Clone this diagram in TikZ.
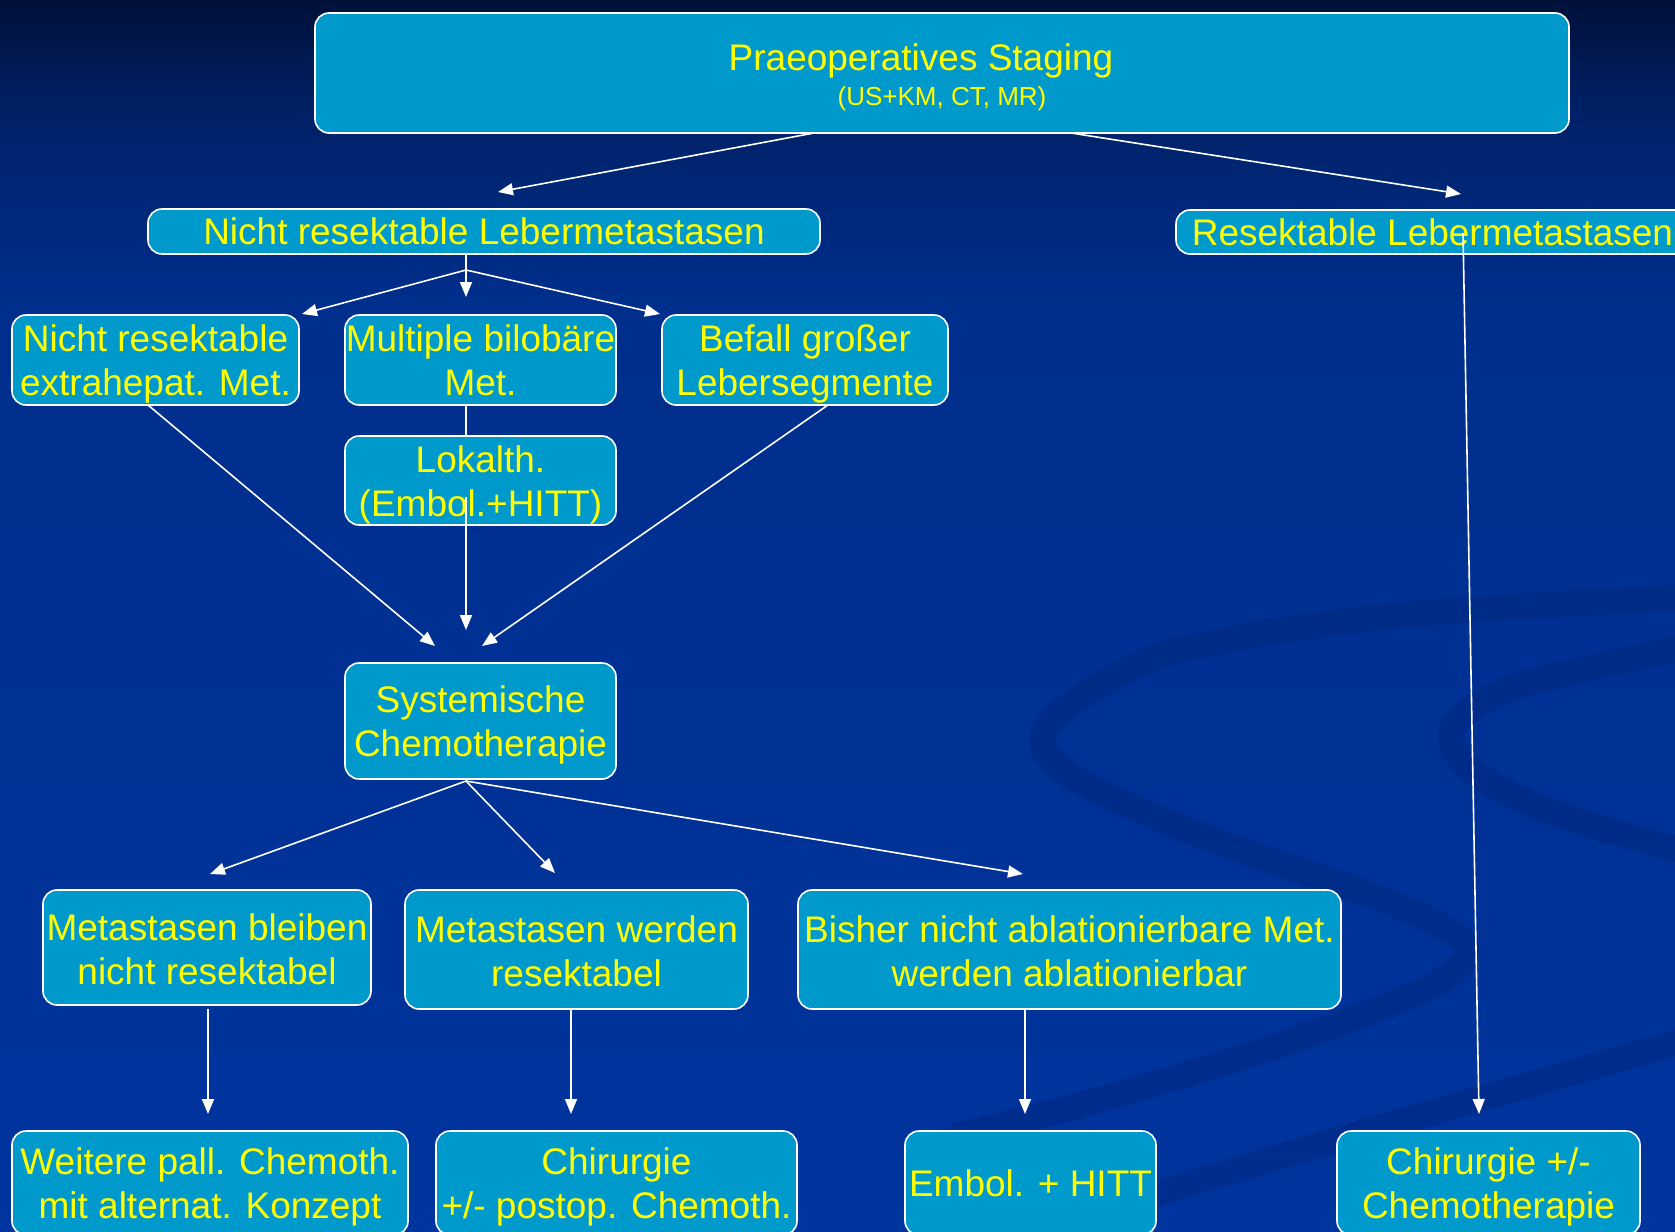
\documentclass[tikz,border=0pt]{standalone}
\usepackage{fontspec}
\setmainfont{Liberation Sans}
\usetikzlibrary{arrows.meta,calc}
\definecolor{boxfill}{RGB}{0,153,204}
\definecolor{txt}{RGB}{255,255,0}
\definecolor{bgtop}{RGB}{0,16,56}
\definecolor{bgupper}{RGB}{0,32,100}
\definecolor{bgmid}{RGB}{0,46,140}
\definecolor{bgbot}{RGB}{0,52,158}
\definecolor{swirlc}{RGB}{0,34,115}
\pgfdeclareverticalshading{bgshade}{100bp}{color(0bp)=(bgbot); color(25bp)=(bgbot); color(62.8bp)=(bgmid); color(70.9bp)=(bgupper); color(75bp)=(bgtop); color(100bp)=(bgtop)}
\newcommand{\mystrut}[1]{\rule{0pt}{#1}}
\tikzset{
  box/.style={draw=white, line width=1.6pt, fill=boxfill, rounded corners=14pt, text=txt,
    align=center, inner sep=0pt, font=\fontsize{37}{44}\selectfont},
  conn/.style={draw=white, line width=1.6pt},
  arr/.style={conn, -{Triangle[length=15pt,width=12pt]}},
  swirlband/.style={draw=swirlc, line width=26pt, line cap=round, opacity=0.35}
}
\begin{document}
\begin{tikzpicture}[x=1pt,y=-1pt]
\useasboundingbox (0,0) rectangle (1675,1231);
\clip (0,0) rectangle (1675,1231);
\shade[shading=bgshade] (0,0) rectangle (1675,1231);
% background swirl
\draw[swirlband] plot[smooth] coordinates {(1720,596) (1400,615) (1172,652) (1065,708) (1043,746) (1086,785) (1215,841) (1387,901) (1465,944) (1430,987) (1258,1052) (1080,1105) (960,1135)};
\draw[swirlband] plot[smooth] coordinates {(1720,640) (1517,686) (1452,729) (1473,772) (1560,815) (1720,862)};
\draw[swirlband] plot[smooth] coordinates {(1720,1030) (1344,1138) (1129,1203) (1040,1250)};

% nodes
\node[box, minimum width=1254pt, minimum height=120pt, font=\fontsize{26}{35}\selectfont] (top) at (942,73)
  {{\fontsize{37}{44}\selectfont\mystrut{36.3pt}Praeoperatives Staging\hspace*{42pt}}\\(US+KM, CT, MR)};
\node[box, minimum width=672pt, minimum height=45pt] (nrl) at (484,231.5) {Nicht resektable Lebermetastasen};
\node[box, minimum width=513pt, minimum height=44pt] (rl) at (1432.5,232) {Resektable Lebermetastasen};
\node[box, minimum width=287pt, minimum height=90pt] (ext) at (155.5,360) {\mystrut{35.6pt}Nicht resektable\\extrahepat. Met.};
\node[box, minimum width=271pt, minimum height=90pt] (mult) at (480.5,360) {Multiple bilobäre\\Met.};
\node[box, minimum width=286pt, minimum height=90pt] (bef) at (805,360) {\mystrut{35.6pt}Befall großer\\Lebersegmente};
\node[box, minimum width=271pt, minimum height=89pt] (lok) at (480.5,480.5) {\mystrut{36.6pt}Lokalth.\\(Embol.+HITT)};
\node[box, minimum width=271pt, minimum height=116pt] (sys) at (480.5,721) {\mystrut{34.4pt}Systemische\\Chemotherapie};
\node[box, minimum width=328pt, minimum height=115pt] (bleib) at (207,947.5) {\mystrut{30.2pt}Metastasen bleiben\\nicht resektabel};
\node[box, minimum width=343pt, minimum height=119pt] (werd) at (576.5,949.5) {\mystrut{30.2pt}Metastasen werden\\resektabel};
\node[box, minimum width=543pt, minimum height=119pt] (bish) at (1069.5,949.5) {\mystrut{30.2pt}Bisher nicht ablationierbare Met.\\werden ablationierbar};
\node[box, minimum width=396pt, minimum height=104pt] (weit) at (210,1183) {\mystrut{35.6pt}Weitere pall. Chemoth.\\mit alternat. Konzept};
\node[box, minimum width=361pt, minimum height=104pt] (chir) at (616.5,1183) {\mystrut{35.6pt}Chirurgie\\+/- postop. Chemoth.};
\node[box, minimum width=251pt, minimum height=104pt] (emb) at (1030.5,1183) {Embol. + HITT};
\node[box, minimum width=303pt, minimum height=104pt] (chir2) at (1488.5,1183) {\mystrut{35.6pt}Chirurgie +/-\\Chemotherapie};

% connector coordinates
\coordinate (t1) at (814,133);
\coordinate (t2) at (1071,133);
\coordinate (e1) at (498,192);
\coordinate (e2) at (1461,194);
\coordinate (n0) at (466,254);
\coordinate (nb) at (466,270);
\coordinate (e3) at (302,314);
\coordinate (e4) at (466,297);
\coordinate (e5) at (660,314);
\coordinate (m0) at (466,405);
\coordinate (m1) at (466,436);
\coordinate (l0) at (466,497);
\coordinate (s1) at (466,630);
\coordinate (x0) at (148,405);
\coordinate (s2) at (435,646);
\coordinate (b0) at (828,405);
\coordinate (s3) at (482,646);
\coordinate (sy) at (466,781);
\coordinate (e6) at (210,874);
\coordinate (e7) at (555,873);
\coordinate (e8) at (1023,874);
\coordinate (d1) at (208,1009);
\coordinate (f1) at (208,1114);
\coordinate (d2) at (571,1009);
\coordinate (f2) at (571,1114);
\coordinate (d3) at (1025,1009);
\coordinate (f3) at (1025,1114);
\coordinate (r0) at (1463,233);
\coordinate (f4) at (1479,1114);

% connectors
\draw[arr] (t1) -- (e1);
\draw[arr] (t2) -- (e2);
\draw[conn] (n0) -- (nb);
\draw[arr] (nb) -- (e3);
\draw[arr] (nb) -- (e4);
\draw[arr] (nb) -- (e5);
\draw[conn] (m0) -- (m1);
\draw[arr] (l0) -- (s1);
\draw[arr] (x0) -- (s2);
\draw[arr] (b0) -- (s3);
\draw[arr] (sy) -- (e6);
\draw[arr] (sy) -- (e7);
\draw[arr] (sy) -- (e8);
\draw[arr] (d1) -- (f1);
\draw[arr] (d2) -- (f2);
\draw[arr] (d3) -- (f3);
\draw[arr] (r0) -- (f4);
\end{tikzpicture}
\end{document}
